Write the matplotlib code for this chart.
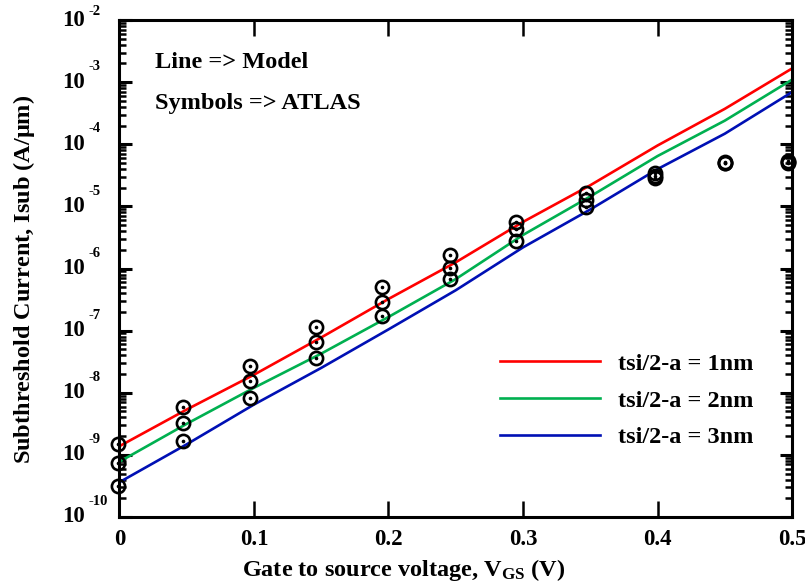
import numpy as np
import matplotlib
matplotlib.use("Agg")
import matplotlib.pyplot as plt

plt.rcParams['font.family'] = ['Liberation Serif', 'DejaVu Serif']
plt.rcParams['font.weight'] = 'bold'
plt.rcParams['axes.labelweight'] = 'bold'
plt.rcParams['mathtext.fontset'] = 'custom'
plt.rcParams['mathtext.rm'] = 'Liberation Serif:bold'
plt.rcParams['mathtext.it'] = 'Liberation Serif:bold'
plt.rcParams['mathtext.bf'] = 'Liberation Serif:bold'

# model curves (log10 of current)
vgs_model = [0.0, 0.05, 0.10, 0.15, 0.20, 0.25, 0.30, 0.35, 0.40, 0.45, 0.50]
log_i_1nm = [-8.86, -8.27, -7.71, -7.11, -6.49, -5.90, -5.25, -4.66, -4.02, -3.43, -2.78]
log_i_2nm = [-9.11, -8.50, -7.92, -7.37, -6.78, -6.17, -5.46, -4.84, -4.19, -3.62, -2.96]
log_i_3nm = [-9.44, -8.83, -8.19, -7.60, -6.98, -6.35, -5.66, -5.05, -4.40, -3.83, -3.16]

# ATLAS symbols
vgs_atlas = [-0.001, 0.047, 0.097, 0.146, 0.195, 0.246, 0.295, 0.347, 0.398, 0.450, 0.497]
atlas_1nm = [-8.82, -8.23, -7.57, -6.94, -6.30, -5.78, -5.25, -4.78, -4.46, -4.28, -4.27]
atlas_2nm = [-9.13, -8.49, -7.81, -7.18, -6.54, -5.99, -5.36, -4.90, -4.51, -4.30, -4.28]
atlas_3nm = [-9.50, -8.78, -8.08, -7.44, -6.76, -6.17, -5.56, -5.01, -4.54, -4.30, -4.30]

labels = ['tsi/2-a = 1nm', 'tsi/2-a = 2nm', 'tsi/2-a = 3nm']
colors = ['#ff0000', '#00b050', '#0010b4']
xticks = [0, 0.1, 0.2, 0.3, 0.4, 0.5]
decades = list(range(-10, -1))

fig = plt.figure(figsize=(8.05, 5.82), dpi=100)
ax = fig.add_axes([0.1484, 0.1117, 0.8355, 0.8539])

for y, c, lab in zip([log_i_1nm, log_i_2nm, log_i_3nm], colors, labels):
    ax.plot(vgs_model, 10.0 ** np.array(y), color=c, lw=1.9, label=lab, zorder=2)

for y in [atlas_1nm, atlas_2nm, atlas_3nm]:
    vals = 10.0 ** np.array(y)
    ax.plot(vgs_atlas, vals, ls='none', marker='o', ms=9.5, mfc='none',
            mec='k', mew=1.9, zorder=3, clip_on=False)
    ax.plot(vgs_atlas, vals, ls='none', marker='o', ms=1.6, mfc='k',
            mec='k', zorder=3, clip_on=False)

ax.set_yscale('log')
ax.set_ylim(1e-10, 1e-2)
ax.set_xlim(0, 0.5)

ax.set_xticks(xticks)
ax.set_xticklabels(['0', '0.1', '0.2', '0.3', '0.4', '0.5'], fontsize=16.5)
ax.tick_params(axis='x', which='major', direction='in', length=11.5, width=1.8,
               top=True, bottom=True, pad=9)

minor_pos = [m * 10.0 ** k for k in decades[:-1] for m in range(2, 10)]
ax.set_yticks([10.0 ** k for k in decades])
ax.set_yticks(minor_pos, minor=True)
ax.set_yticklabels([])
ax.set_yticklabels([], minor=True)
ax.tick_params(axis='y', which='major', direction='in', length=9, width=2.2,
               left=True, right=True)
ax.tick_params(axis='y', which='minor', direction='in', length=5, width=1.8,
               left=True, right=True)

for k in decades:
    raise_pt = 6 if k == -2 else 11
    ax.annotate('10', xy=(0, 10.0 ** k), xycoords=('axes fraction', 'data'),
                xytext=(-25, 0), textcoords='offset points',
                ha='right', va='center', fontsize=16.5)
    ax.annotate(str(k), xy=(0, 10.0 ** k), xycoords=('axes fraction', 'data'),
                xytext=(-22.5, raise_pt), textcoords='offset points',
                ha='left', va='center', fontsize=10.5)

for s in ax.spines.values():
    s.set_linewidth(2.2)

ax.set_xlabel(r'Gate to source voltage, V$_{\rm GS}$ (V)', fontsize=17.5,
              fontweight='bold')
ax.xaxis.set_label_coords(0.423, -0.08)
ax.set_ylabel(r'Subthreshold Current, Isub (A/$\mu$m)', fontsize=17.5,
              fontweight='bold')
ax.yaxis.set_label_coords(-0.122, 0.477)

ax.text(0.053, 0.9155, 'Line => Model', transform=ax.transAxes,
        ha='left', va='center', fontsize=17.5)
ax.text(0.053, 0.833, 'Symbols => ATLAS', transform=ax.transAxes,
        ha='left', va='center', fontsize=17.5)

ax.legend(loc='upper left', bbox_to_anchor=(0.566, 0.33), frameon=False,
          fontsize=17.5, handlelength=4.1, handletextpad=0.75, labelspacing=0.6,
          borderpad=0, borderaxespad=0)

fig.savefig('out.png', dpi=100)
